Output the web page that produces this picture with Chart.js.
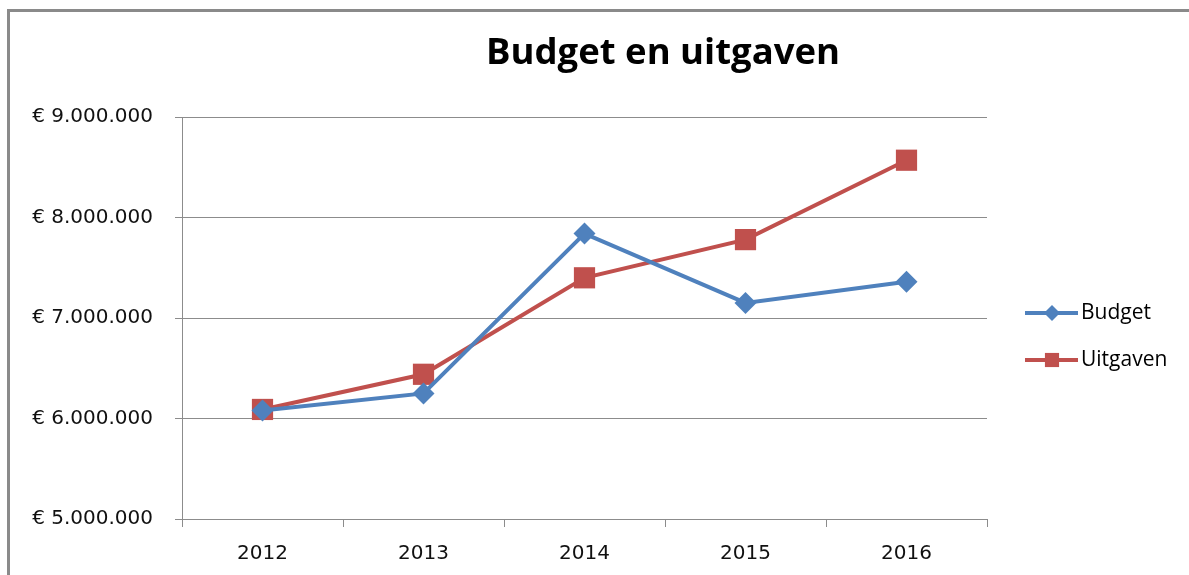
<!DOCTYPE html>
<html>
<head>
<meta charset="utf-8">
<script src="https://cdn.jsdelivr.net/npm/chart.js@4.4.1/dist/chart.umd.min.js"></script>
<style>
  html, body { margin: 0; padding: 0; background: #fff; overflow: hidden; }
  #frame { position: absolute; left: 7px; top: 9px; width: 1300px; height: 700px; border: 3px solid #8a8a8a; box-sizing: border-box; }
  #wrap { position: absolute; left: 0; top: 0; width: 1189px; height: 575px; }
</style>
</head>
<body>
<div id="frame"></div>
<div id="wrap"><canvas id="chart" width="1189" height="575"></canvas></div>
<script>
// data
const years = ['2012', '2013', '2014', '2015', '2016'];
const budget = [6080000, 6250000, 7840000, 7150000, 7360000];
const uitgaven = [6090000, 6440000, 7400000, 7780000, 8570000];
const yTicks = [5000000, 6000000, 7000000, 8000000, 9000000];

const titleText = 'Budget en uitgaven';
const gridColor = '#8c8c8c';

function euro(v) {
    return '€ ' + String(v).replace(/\B(?=(\d{3})+(?!\d))/g, '.');
}

// title, placed over the whole frame like the original
const titlePlugin = {
    id: 'titleText',
    afterDraw(chart) {
        const c = chart.ctx;
        c.save();
        c.font = "bold 36.5px 'Open Sans'";
        c.fillStyle = '#000';
        c.textAlign = 'center';
        c.textBaseline = 'middle';
        c.fillText(titleText, 663, 54);
        c.restore();
    }
};

// legend on the right: line with marker in the middle
const sideLegend = {
    id: 'sideLegend',
    afterDraw(chart) {
        const c = chart.ctx;
        c.save();
        chart.data.datasets.forEach((ds, i) => {
            const y = 313 + i * 47;
            c.strokeStyle = ds.borderColor;
            c.lineWidth = 4;
            c.beginPath();
            c.moveTo(1025, y);
            c.lineTo(1078, y);
            c.stroke();
            c.fillStyle = ds.backgroundColor;
            Chart.helpers.drawPoint(c, {
                pointStyle: ds.pointStyle,
                radius: ds.pointStyle === 'rect' ? 10 : 8,
                borderWidth: 0,
                rotation: 0
            }, 1052, y);
            c.fillStyle = '#000';
            c.font = "21px 'Open Sans'";
            c.textAlign = 'left';
            c.textBaseline = 'middle';
            c.fillText(ds.label, 1081, y);
        });
        c.restore();
    }
};

new Chart(document.getElementById('chart'), {
    type: 'line',
    data: {
        labels: years,
        datasets: [
            {
                label: 'Budget',
                data: budget,
                borderColor: '#4f81bd',
                backgroundColor: '#4f81bd',
                borderWidth: 4,
                pointStyle: 'rectRot',
                pointRadius: 11,
                pointBorderWidth: 0,
                tension: 0
            },
            {
                label: 'Uitgaven',
                data: uitgaven,
                borderColor: '#c0504d',
                backgroundColor: '#c0504d',
                borderWidth: 4,
                pointStyle: 'rect',
                pointRadius: 15,
                pointBorderWidth: 0,
                tension: 0
            }
        ]
    },
    options: {
        responsive: false,
        animation: false,
        layout: { padding: { left: 0, top: 117, right: 202, bottom: 0 } },
        plugins: {
            legend: { display: false },
            title: { display: false },
            tooltip: { enabled: false }
        },
        scales: {
            x: {
                offset: true,
                grid: { offset: true, drawOnChartArea: false, color: gridColor, tickLength: 8 },
                border: { color: gridColor, width: 1 },
                ticks: { color: '#111', padding: 15, font: { family: "'DejaVu Sans'", size: 20 } },
                afterFit(scale) { scale.height = 56; }
            },
            y: {
                min: 5000000,
                max: 9000000,
                afterBuildTicks(scale) { scale.ticks = yTicks.map(v => ({ value: v })); },
                grid: { color: gridColor, tickLength: 7 },
                border: { color: gridColor, width: 1 },
                ticks: {
                    color: '#111',
                    padding: 22,
                    font: { family: "'DejaVu Sans'", size: 20 },
                    callback: (v) => euro(v)
                },
                afterFit(scale) { scale.width = 182; }
            }
        }
    },
    plugins: [titlePlugin, sideLegend]
});
</script>
</body>
</html>
